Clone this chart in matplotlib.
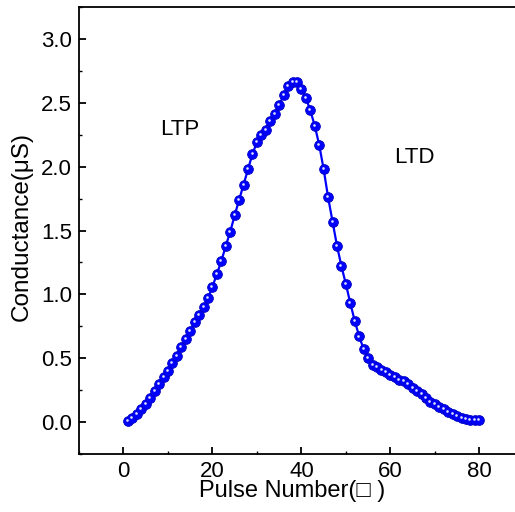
import matplotlib.pyplot as plt
import matplotlib.transforms as mtransforms
from matplotlib.ticker import MultipleLocator

# pulse numbers and conductance
pulse = list(range(1, 81))
conductance = [
    0.01, 0.03, 0.06, 0.10, 0.14, 0.19, 0.24, 0.30, 0.35, 0.40,
    0.46, 0.52, 0.59, 0.65, 0.71, 0.78, 0.84, 0.90, 0.97, 1.06,
    1.16, 1.26, 1.38, 1.49, 1.62, 1.74, 1.86, 1.98, 2.10, 2.19,
    2.25, 2.29, 2.36, 2.41, 2.48, 2.56, 2.63, 2.66, 2.66, 2.61,
    2.54, 2.44, 2.32, 2.17, 1.98, 1.76, 1.57, 1.38, 1.22, 1.08,
    0.93, 0.79, 0.67, 0.57, 0.50, 0.45, 0.43, 0.41, 0.39, 0.37,
    0.35, 0.33, 0.32, 0.30, 0.27, 0.24, 0.22, 0.19, 0.16, 0.14,
    0.12, 0.10, 0.08, 0.06, 0.05, 0.035, 0.026, 0.02, 0.016, 0.016,
]
x_ticks = [0, 20, 40, 60, 80]
y_ticks = [0.0, 0.5, 1.0, 1.5, 2.0, 2.5, 3.0]

plt.rcParams['font.family'] = ['Liberation Sans', 'DejaVu Sans']
fs = 16

fig = plt.figure(figsize=(5.15, 5.12), dpi=100)
# right side of the frame falls outside the picture, as in the original
ax = fig.add_axes([0.1534, 0.1133, 0.90, 0.873])

ax.plot(pulse, conductance, color='blue', lw=1.6, marker='o', ms=7,
        mfc='blue', mec='#0000c0', mew=0.6, zorder=2)
# little shine on each ball, nudged up-left a bit
shine = ax.transData + mtransforms.ScaledTranslation(-0.7 / 72, 0.7 / 72, fig.dpi_scale_trans)
ax.plot(pulse, conductance, ls='none', marker='o', ms=1.9,
        mfc='#e0e0ff', mec='none', zorder=3, transform=shine)

ax.text(12.6, 2.29, 'LTP', fontsize=fs, ha='center', va='center')
ax.text(65.4, 2.07, 'LTD', fontsize=fs, ha='center', va='center')

ax.set_xlim(-10, 94.2)
ax.set_ylim(-0.25, 3.25)
ax.set_xticks(x_ticks)
ax.set_yticks(y_ticks)
ax.set_yticklabels([f'{v:.1f}' for v in y_ticks])
ax.xaxis.set_minor_locator(MultipleLocator(10))
ax.yaxis.set_minor_locator(MultipleLocator(0.25))
ax.tick_params(which='major', direction='in', length=5, width=1.3, labelsize=fs, pad=5)
ax.tick_params(which='minor', direction='in', length=2.5, width=1.0)
for s in ax.spines.values():
    s.set_linewidth(1.3)

ax.set_xlabel('Pulse Number(\u25a1 )', fontsize=17)
ax.xaxis.set_label_coords(0.459, -0.058)
ax.set_ylabel('Conductance(\u03bcS)', fontsize=17.5)
ax.yaxis.set_label_coords(-0.099, 0.51)

fig.savefig('out.png', dpi=100)
